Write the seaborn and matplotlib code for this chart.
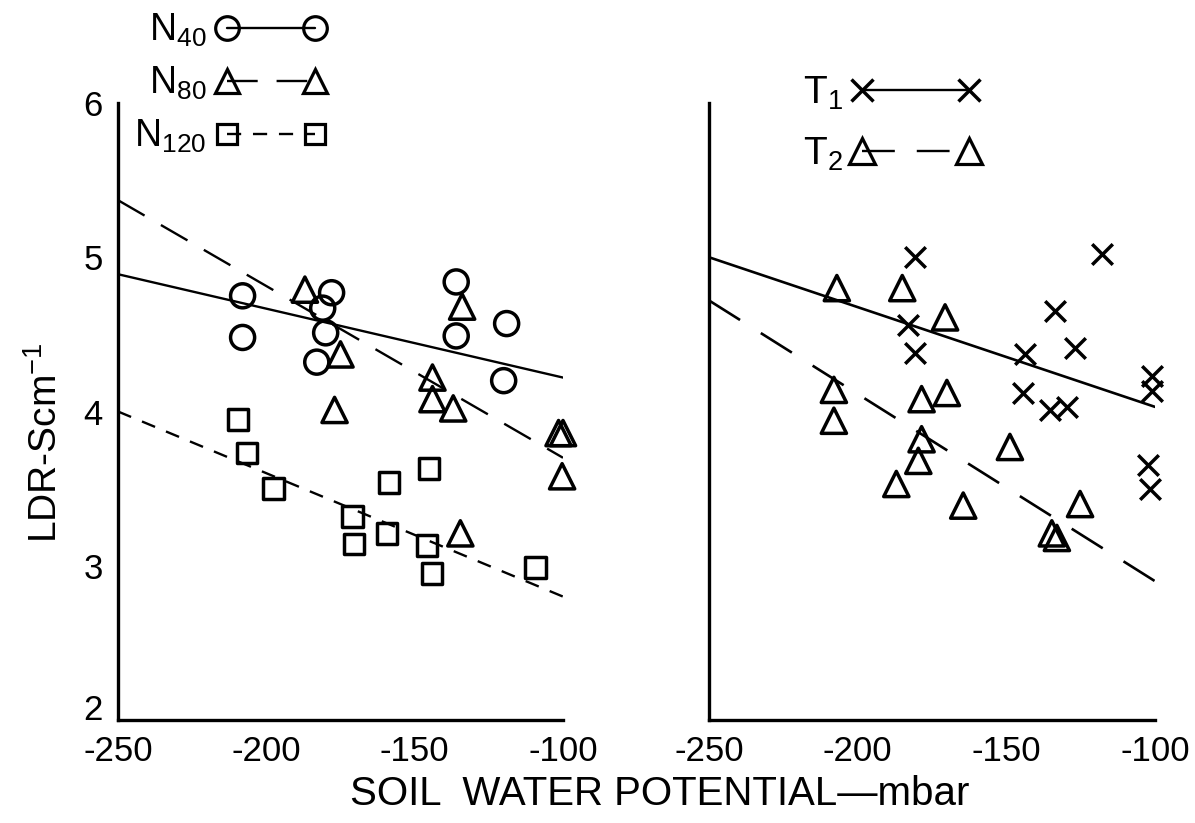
import numpy as np
import pandas as pd
import matplotlib
matplotlib.use("Agg")
import matplotlib.pyplot as plt
from matplotlib.lines import Line2D
import seaborn as sns

# ---------------- data ----------------
# Left panel: nitrogen levels
n40_x = [-208, -208, -178, -181, -180, -183, -136, -136, -119, -120]
n40_y = [4.75, 4.48, 4.77, 4.67, 4.51, 4.32, 4.84, 4.49, 4.57, 4.20]

n80_x = [-187, -175, -177, -134, -144, -144, -137, -101.5, -100, -100.3, -134.6]
n80_y = [4.79, 4.37, 4.01, 4.68, 4.22, 4.08, 4.02, 3.86, 3.86, 3.58, 3.21]

n120_x = [-209.6, -206.5, -197.5, -171, -170.5, -158.7, -159.3, -145.2, -145.8, -144.1, -109.3]
n120_y = [3.95, 3.73, 3.50, 3.32, 3.14, 3.54, 3.21, 3.63, 3.13, 2.95, 2.99]

# Right panel: treatments
t1_x = [-180.7, -117.9, -133.6, -183, -180.7, -126.9, -143.7, -144.3, -135.3, -129.7,
        -101.1, -101, -102.2, -101.7]
t1_y = [5.00, 5.02, 4.65, 4.56, 4.38, 4.41, 4.37, 4.12, 4.01, 4.03,
        4.23, 4.13, 3.65, 3.50]

t2_x = [-207, -185, -170.6, -208, -208, -178.5, -170, -178.5, -179.6, -187,
        -148.8, -164.5, -125.2, -134.7, -133]
t2_y = [4.80, 4.80, 4.61, 4.14, 3.94, 4.08, 4.12, 3.82, 3.68, 3.53,
        3.77, 3.39, 3.40, 3.21, 3.18]

# Fitted regression lines (end points)
fit_x = [-250, -100]
n40_fit = [4.89, 4.22]
n80_fit = [5.37, 3.70]
n120_fit = [4.00, 2.80]
t1_fit = [5.00, 4.03]
t2_fit = [4.72, 2.90]

x_ticks = [-250, -200, -150, -100]
y_ticks = [2, 3, 4, 5, 6]
left_labels = ["N$_{40}$", "N$_{80}$", "N$_{120}$"]
right_labels = ["T$_1$", "T$_2$"]
x_title = "SOIL  WATER POTENTIAL\u2014mbar"
y_title = "LDR-Scm$^{-1}$"

# ---------------- style ----------------
sns.set_theme(style="white")
plt.rcParams["font.family"] = ["Liberation Sans", "DejaVu Sans"]
plt.rcParams["axes.unicode_minus"] = False
plt.rcParams["mathtext.default"] = "regular"
for key in ("text.color", "axes.labelcolor", "xtick.color", "ytick.color",
            "axes.edgecolor"):
    plt.rcParams[key] = "black"

W, H = 1195, 823
fig = plt.figure(figsize=(W / 100, H / 100), dpi=100)
fig.patch.set_facecolor("white")
axL = fig.add_axes([118 / W, 1 - 720 / H, 445 / W, 617 / H])
axR = fig.add_axes([709 / W, 1 - 720 / H, 446 / W, 617 / H])

K = "black"
long_dash = (0, (13, 8))
short_dash = (0, (6, 5))
t2_dash = (0, (13.9, 9.3))

def open_pts(ax, x, y, marker, s):
    sns.scatterplot(x=x, y=y, ax=ax, marker=marker, s=s, color=K,
                    facecolor="none", edgecolor=K, linewidth=2.5, zorder=3,
                    clip_on=False)

# left panel
sns.lineplot(x=fit_x, y=n40_fit, ax=axL, color=K, linewidth=1.7, linestyle="-")
sns.lineplot(x=fit_x, y=n80_fit, ax=axL, color=K, linewidth=1.7, linestyle=long_dash)
sns.lineplot(x=fit_x, y=n120_fit, ax=axL, color=K, linewidth=1.7, linestyle=short_dash)
open_pts(axL, n40_x, n40_y, "o", 300)
open_pts(axL, n80_x, n80_y, "^", 330)
open_pts(axL, n120_x, n120_y, "s", 220)

# right panel
sns.lineplot(x=fit_x, y=t1_fit, ax=axR, color=K, linewidth=1.9, linestyle="-")
sns.lineplot(x=fit_x, y=t2_fit, ax=axR, color=K, linewidth=1.9, linestyle=t2_dash)
sns.scatterplot(x=t1_x, y=t1_y, ax=axR, marker="x", s=220, color=K, linewidth=2.5,
                zorder=3, clip_on=False)
open_pts(axR, t2_x, t2_y, "^", 330)

for ax, show_y in ((axL, True), (axR, False)):
    ax.set_xlim(-250, -100)
    ax.set_ylim(2, 6)
    ax.set_xticks(x_ticks)
    ax.set_xticklabels([str(v) for v in x_ticks])
    ax.set_yticks(y_ticks)
    ax.set_yticklabels([str(v) for v in y_ticks] if show_y else [])
    ax.set_facecolor("none")
    for side in ("top", "right"):
        ax.spines[side].set_visible(False)
    for side in ("left", "bottom"):
        ax.spines[side].set_linewidth(2.4)
        ax.spines[side].set_color(K)
    ax.tick_params(direction="in", length=11, width=1.9, colors=K,
                   labelsize=25, pad=11)
    ax.set_xlabel("")
    ax.set_ylabel("")

# the "2" label sits just above the x axis in the reference
axL.yaxis.get_major_ticks()[0].label1.set_va("baseline")

# legends
mk = dict(color=K, lw=1.7, mfc="none", mec=K, mew=2.3)
hL = [Line2D([], [], ls="-", marker="o", ms=17, **mk),
      Line2D([], [], ls=long_dash, marker="^", ms=17, **mk),
      Line2D([], [], ls=short_dash, marker="s", ms=14, **mk)]
fig.legend(hL, left_labels, loc="upper left", bbox_to_anchor=(134 / W, 1 - 12 / H),
           frameon=False, numpoints=2, markerfirst=False, fontsize=27,
           handlelength=2.95, handletextpad=0.25, labelspacing=0.42,
           borderpad=0, borderaxespad=0)

hR = [Line2D([], [], ls="-", marker="x", ms=16, color=K, lw=1.7, mew=2.5),
      Line2D([], [], ls=t2_dash, marker="^", ms=19, **mk)]
fig.legend(hR, right_labels, loc="upper left", bbox_to_anchor=(803 / W, 1 - 75 / H),
           frameon=False, numpoints=2, markerfirst=False, fontsize=28,
           handlelength=3.35, handletextpad=0.2, labelspacing=0.6,
           borderpad=0, borderaxespad=0)

fig.text(660 / W, 1 - 794 / H, x_title, ha="center", va="center", fontsize=29)
fig.text(46 / W, 1 - 443 / H, y_title, ha="center", va="center", rotation=90,
         fontsize=28)

fig.savefig("out.png", dpi=100, facecolor="white")
